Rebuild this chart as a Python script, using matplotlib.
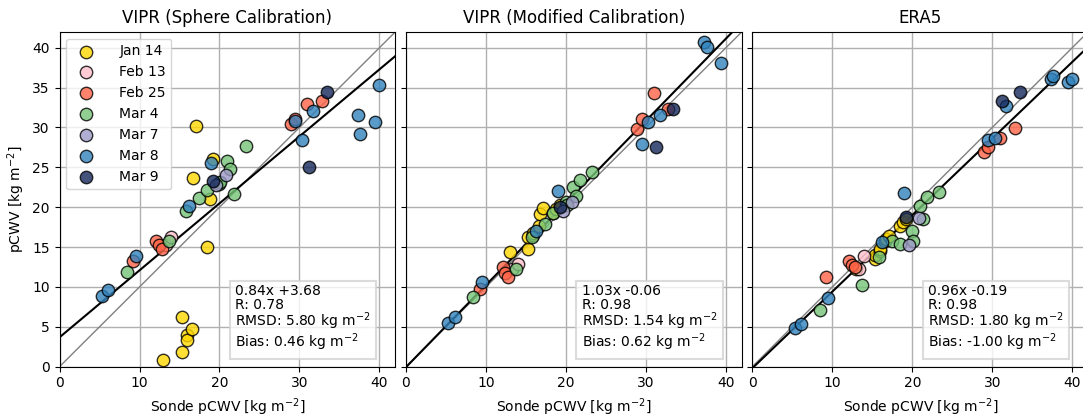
import numpy as np
import matplotlib
matplotlib.use("Agg")
import matplotlib.pyplot as plt

# sonde pCWV per launch day, and retrieved pCWV per panel
dates = ["Jan 14", "Feb 13", "Feb 25", "Mar 4", "Mar 7", "Mar 8", "Mar 9"]
colors = ["#FFD700", "#FFC0CB", "#FF6347", "#74C476", "#9E9AC8", "#3182BD", "#14285A"]

sonde = {
    "Jan 14": [13.0, 15.3, 15.3, 15.9, 15.9, 16.6, 16.7, 17.1, 18.4, 18.8, 19.2],
    "Feb 13": [13.3, 14.0],
    "Feb 25": [9.2, 12.1, 12.4, 12.8, 28.9, 29.5, 31.0, 32.8],
    "Mar 4": [8.4, 13.7, 15.8, 17.4, 18.4, 20.0, 20.1, 20.9, 21.3, 21.8, 23.3],
    "Mar 7": [19.6, 20.8],
    "Mar 8": [5.3, 6.1, 9.5, 16.2, 19.0, 29.5, 30.3, 31.7, 37.3, 37.6, 39.4, 39.9],
    "Mar 9": [19.2, 31.2, 33.4],
}

vipr_sphere = {
    "Jan 14": [0.9, 6.2, 1.9, 4.0, 3.4, 4.7, 23.6, 30.2, 15.0, 21.0, 26.1],
    "Feb 13": [15.3, 16.2],
    "Feb 25": [13.2, 15.7, 15.2, 14.7, 30.4, 31.1, 32.9, 33.3],
    "Mar 4": [11.9, 15.7, 19.5, 21.1, 22.2, 22.9, 23.2, 25.8, 24.8, 21.6, 27.7],
    "Mar 7": [22.8, 24.0],
    "Mar 8": [8.9, 9.6, 13.9, 20.2, 25.5, 30.8, 28.4, 32.0, 31.5, 29.2, 30.7, 35.3],
    "Mar 9": [23.3, 25.0, 34.5],
}

vipr_modified = {
    "Jan 14": [14.4, 14.7, 16.2, 16.5, 16.8, 17.6, 19.2, 19.9, 19.3, 19.8, 20.3],
    "Feb 13": [12.3, 12.9],
    "Feb 25": [9.8, 12.5, 11.8, 11.3, 29.8, 31.1, 34.3, 32.3],
    "Mar 4": [8.8, 12.3, 16.2, 17.9, 19.3, 20.6, 20.3, 22.5, 21.4, 23.4, 24.4],
    "Mar 7": [19.5, 20.6],
    "Mar 8": [5.5, 6.2, 10.6, 17.0, 22.0, 27.9, 30.7, 31.5, 40.7, 40.1, 38.1, np.nan],
    "Mar 9": [20.0, 27.6, 32.3],
}

era5 = {
    "Jan 14": [12.3, 13.5, 14.0, 14.5, 14.8, 15.8, 16.0, 16.4, 17.7, 18.1, 18.5],
    "Feb 13": [12.2, 13.9],
    "Feb 25": [11.3, 13.2, 12.8, 12.5, 26.9, 27.6, 28.7, 29.9],
    "Mar 4": [7.1, 10.3, 13.7, 15.7, 15.4, 17.0, 15.8, 20.2, 18.5, 21.3, 21.9],
    "Mar 7": [15.3, 18.7],
    "Mar 8": [4.9, 5.4, 8.6, 15.6, 21.8, 28.4, 28.7, 32.7, 36.1, 36.4, 35.7, 36.1],
    "Mar 9": [18.8, 33.3, 34.5],
}

titles = ["VIPR (Sphere Calibration)", "VIPR (Modified Calibration)", "ERA5"]
panels = [vipr_sphere, vipr_modified, era5]
fits = [(0.84, 3.68), (1.03, -0.06), (0.96, -0.19)]
stats = [(0.78, 5.80, 0.46), (0.98, 1.54, 0.62), (0.98, 1.80, -1.00)]

W, H = 1083, 419
fig = plt.figure(figsize=(W / 100, H / 100), dpi=100)

lefts = [59.5, 406, 752.3]
axes = []
for i, left in enumerate(lefts):
    ax = fig.add_axes([left / W, (H - 366.7) / H, 336 / W, 335 / H])
    axes.append(ax)

    xx = np.array([0, 42])
    ax.plot(xx, xx, color="gray", lw=1, zorder=2)
    m, b = fits[i]
    ax.plot(xx, m * xx + b, color="black", lw=1.5, zorder=3)

    for d, c in zip(dates, colors):
        ax.scatter(sonde[d], panels[i][d], s=80, color=c, edgecolor="black",
                   linewidth=1, alpha=0.8, label=d, zorder=4)

    r, rmsd, bias = stats[i]
    sign = "+" if b >= 0 else "-"
    txt = (f"{m:.2f}x {sign}{abs(b):.2f}\n"
           f"R: {r:.2f}\n"
           f"RMSD: {rmsd:.2f} kg m$^{{-2}}$\n"
           f"Bias: {bias:.2f} kg m$^{{-2}}$")
    ax.text(22.0, 1.7, txt, fontsize=10, va="bottom", ha="left", zorder=6,
            linespacing=0.95,
            bbox=dict(boxstyle="square,pad=0.4", facecolor="white",
                      edgecolor="lightgray", lw=1.5, alpha=0.8))

    ax.set_xlim(0, 42)
    ax.set_ylim(0, 42)
    ax.set_xticks([0, 10, 20, 30, 40])
    ax.set_yticks(range(0, 41, 5))
    ax.grid(True, color="#b0b0b0", lw=1)
    ax.set_axisbelow(True)
    ax.set_title(titles[i], fontsize=12)
    ax.set_xlabel("Sonde pCWV [kg m$^{-2}$]", fontsize=10)
    if i == 0:
        ax.set_ylabel("pCWV [kg m$^{-2}$]", fontsize=10)
    else:
        ax.tick_params(labelleft=False)

axes[0].legend(loc="upper left", fontsize=10, framealpha=0.8,
               borderpad=0.4, labelspacing=0.5, handletextpad=1.4)

fig.savefig("out.png", dpi=100)
